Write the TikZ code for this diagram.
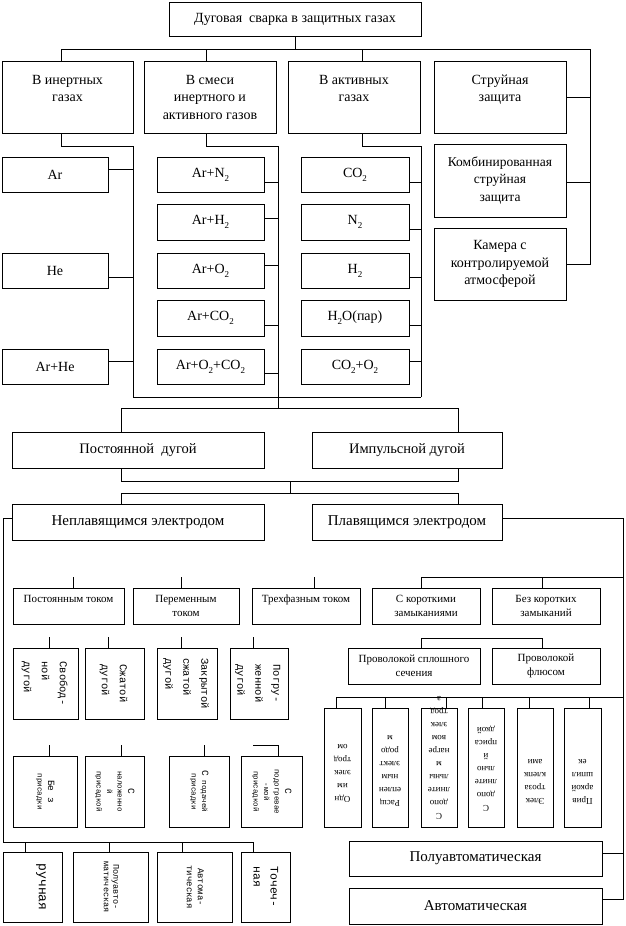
\documentclass[tikz,border=0pt]{standalone}
\usepackage{fontspec}
\setmainfont{Liberation Serif}
\setmonofont{Liberation Mono}
\usepackage{graphicx}
\newcommand\bx[7][]{%
  \pgfmathsetmacro\bxw{#5-#3}%
  \pgfmathsetmacro\bxh{#6-#4}%
  \pgfmathsetmacro\bxx{(#3+#5)/2}%
  \pgfmathsetmacro\bxy{(#4+#6)/2}%
  \node[box,minimum width=\bxw pt,minimum height=\bxh pt,#1] (#2) at (\bxx,\bxy) {#7};}
\newcommand\vt[2]{\rotatebox{-90}{\begin{tabular}{@{}#1@{}}#2\end{tabular}}}
\newcommand\ut[2]{\rotatebox{180}{\parbox[c][#1pt][t]{34pt}{\centering\fontsize{9}{13}\selectfont #2}}}
\newcommand\bg[1]{{\fontsize{9.5}{10}\selectfont #1}}
\newcommand\sbs[1]{\raisebox{-4pt}{\fontsize{9}{9}\selectfont #1}}
\begin{document}
\begin{tikzpicture}[x=1pt,y=-1pt,
  box/.style={draw,line width=0.7pt,inner sep=1pt,align=center,font=\fontsize{14}{17.5}\selectfont},
  sm/.style={font=\fontsize{11}{14}\selectfont},
  rowc/.style={font=\ttfamily\fontsize{10.5}{18}\selectfont},
  rowd/.style={font=\ttfamily\fontsize{7.5}{10.5}\selectfont},
  ln/.style={line width=0.7pt}]
\useasboundingbox (0,0) rectangle (626,926);
% ---------- level 1 / 2
\bx{top}{169}{2}{421}{36}{Дуговая\ \ сварка в защитных газах}
\bx{b1}{2}{61}{133}{133}{В инертных\\газах\\\mbox{}}
\bx{b2}{144}{61}{276}{133}{В смеси\\инертного и\\активного газов}
\bx{b3}{288}{61}{420}{133}{В активных\\газах\\\mbox{}}
\bx{b4}{434}{61}{566}{133}{Струйная\\защита\\\mbox{}}
\bx[font=\fontsize{13.5}{17.5}\selectfont]{comb}{434}{144}{566}{217}{Комбинированная\\струйная\\защита}
\bx{cam}{434}{228}{566}{300}{Камера с\\контролируемой\\атмосферой}
% inert
\bx{ar}{2}{157}{108}{192}{Ar}
\bx{he}{2}{253}{108}{288}{He}
\bx{arhe}{2}{349}{108}{384}{Ar+He}
% mix
\bx{m1}{157}{157}{264}{192}{Ar+N\sbs{2}}
\bx{m2}{157}{204}{264}{240}{Ar+H\sbs{2}}
\bx{m3}{157}{253}{264}{288}{Ar+O\sbs{2}}
\bx{m4}{157}{300}{264}{336}{Ar+CO\sbs{2}}
\bx{m5}{157}{349}{264}{384}{Ar+O\sbs{2}+CO\sbs{2}}
% active
\bx{a1}{301}{157}{409}{192}{CO\sbs{2}}
\bx{a2}{301}{204}{409}{240}{N\sbs{2}}
\bx{a3}{301}{253}{409}{288}{H\sbs{2}}
\bx{a4}{301}{300}{409}{336}{H\sbs{2}O(пар)}
\bx{a5}{301}{349}{409}{384}{CO\sbs{2}+O\sbs{2}}
% ---------- arc / electrode
\bx[font=\fontsize{14.5}{17}\selectfont]{post}{12}{432}{264}{468}{Постоянной\ \ дугой}
\bx[font=\fontsize{14.5}{17}\selectfont]{imp}{312}{432}{502}{468}{Импульсной дугой}
\bx[font=\fontsize{15}{17}\selectfont]{nep}{12}{504}{264}{540}{Неплавящимся электродом}
\bx[font=\fontsize{15}{17}\selectfont]{pl}{312}{504}{502}{540}{Плавящимся электродом}
% ---------- small boxes
\bx[sm]{pt1}{13}{588}{124}{624}{Постоянным током\\\mbox{}}
\bx[sm]{pt2}{133}{588}{239}{624}{Переменным\\током}
\bx[sm]{pt3}{252}{588}{360}{624}{Трехфазным током\\\mbox{}}
\bx[sm]{kz1}{372}{588}{480}{624}{С короткими\\замыканиями}
\bx[sm]{kz2}{492}{588}{600}{624}{Без коротких\\замыканий}
\bx[sm]{pr1}{348}{648}{480}{684}{Проволокой сплошного\\сечения}
\bx[sm]{pr2}{492}{648}{600}{684}{Проволокой\\флюсом}
% row 3
\bx[rowc]{d1}{13}{648}{78}{719}{\vt{l}{Свобод-\\ной\\дугой}}
\bx[rowc]{d2}{85}{648}{144}{719}{\vt{l}{Сжатой\\дугой}}
\bx[rowc]{d3}{157}{648}{217}{719}{\vt{l}{Закрытой\\сжатой\\дугой}}
\bx[rowc]{d4}{230}{648}{288}{719}{\vt{l}{Погру-\\женной\\дугой}}
% row 4
\bx[rowd]{e1}{13}{756}{77}{827}{\vt{c}{\bg{Бе з}\\присадки}}
\bx[rowd]{e2}{85}{756}{144}{827}{\vt{c}{\bg{С}\\наложенно\\й\\присадкой}}
\bx[rowd]{e3}{169}{756}{229}{827}{\vt{c}{\bg{С} подачей\\присадки}}
\bx[rowd]{e4}{241}{756}{302}{827}{\vt{c}{\bg{С}\\подогревае\\-мой\\присадкой}}
% row 5
\bx[font=\ttfamily\fontsize{13}{21}\selectfont]{f1}{3}{852}{62}{922}{\vt{c}{ручная\\\mbox{}}}
\bx[font=\ttfamily\fontsize{8.5}{9.5}\selectfont]{f2}{73}{852}{148}{922}{\vt{c}{Полуавто-\\матическая}}
\bx[font=\ttfamily\fontsize{9}{11}\selectfont]{f3}{157}{852}{232}{922}{\vt{c}{Автома-\\тическая}}
\bx[font=\ttfamily\fontsize{11.5}{17}\selectfont]{f4}{241}{852}{290}{922}{\vt{l}{Точеч-\\ная}}
% right rotated
\bx{r1}{324}{708}{361}{827}{\ut{69}{Одн\\им\\элек\\трод\\ом}}
\bx{r2}{372}{708}{408}{827}{\ut{77}{Расщ\\еплен\\ным\\элект\\родо\\м}}
\bx{r3}{421}{708}{457}{827}{\ut{103}{С\\допо\\лните\\льны\\м\\нагре\\вом\\элек\\трод\\а}}
\bx{r4}{468}{708}{504}{827}{\ut{87}{С\\допо\\лните\\льно\\й\\приса\\дкой}}
\bx{r5}{517}{708}{553}{827}{\ut{73}{Элек\\троза\\клепк\\ами}}
\bx{r6}{564}{708}{601}{827}{\ut{73}{Прив\\аркой\\шпил\\ек}}
% bottom right
\bx[font=\fontsize{15}{17}\selectfont]{pa}{349}{841}{602}{876}{Полуавтоматическая}
\bx[font=\fontsize{15}{17}\selectfont]{av}{349}{888}{602}{924}{Автоматическая}
% ================= connectors
\coordinate (h1L) at (61,49);
\coordinate (h1d2) at (206,49);
\coordinate (h1d3) at (362,49);
\coordinate (h1R) at (590,49);
\draw[ln] (top.south) -- (top.south |- h1L);
\draw[ln] (h1L |- b1.north) -- (h1L) -- (h1R) -- (h1R |- cam.east) -- (cam.east);
\draw[ln] (h1d2) -- (h1d2 |- b2.north);
\draw[ln] (h1d3) -- (h1d3 |- b3.north);
\draw[ln] (b4.east) -- (b4.east -| h1R);
\draw[ln] ([yshift=-1.5pt]comb.east) -- ([yshift=-1.5pt]comb.east -| h1R);
% group 1
\coordinate (g1a) at (61,146); \coordinate (g1b) at (133,146); \coordinate (g1c) at (133,397);
\draw[ln] (g1a |- b1.south) -- (g1a) -- (g1b) -- (g1c);
\draw[ln] ([yshift=5.5pt]ar.east) -- ([yshift=5.5pt]ar.east -| g1b);
\draw[ln] ([yshift=-6.5pt]he.east) -- ([yshift=-6.5pt]he.east -| g1b);
\draw[ln] ([yshift=5.5pt]arhe.east) -- ([yshift=5.5pt]arhe.east -| g1b);
% group 2
\coordinate (g2a) at (206,146); \coordinate (g2b) at (278,146); \coordinate (g2c) at (278,408);
\draw[ln] (g2a |- b2.south) -- (g2a) -- (g2b) -- (g2c);
\draw[ln] ([yshift=-7.5pt]m1.east) -- ([yshift=-7.5pt]m1.east -| g2b);
\draw[ln] ([yshift=4pt]m2.east) -- ([yshift=4pt]m2.east -| g2b);
\draw[ln] ([yshift=5.5pt]m3.east) -- ([yshift=5.5pt]m3.east -| g2b);
\draw[ln] ([yshift=-7pt]m4.east) -- ([yshift=-7pt]m4.east -| g2b);
\draw[ln] ([yshift=-6.5pt]m5.east) -- ([yshift=-6.5pt]m5.east -| g2b);
% group 3
\coordinate (g3a) at (362,146); \coordinate (g3b) at (421,146); \coordinate (g3c) at (421,397);
\draw[ln] (g3a |- b3.south) -- (g3a) -- (g3b) -- (g3c);
\draw[ln] ([yshift=-7.5pt]a1.east) -- ([yshift=-7.5pt]a1.east -| g3b);
\draw[ln] ([yshift=-7pt]a2.east) -- ([yshift=-7pt]a2.east -| g3b);
\draw[ln] ([yshift=-6.5pt]a3.east) -- ([yshift=-6.5pt]a3.east -| g3b);
\draw[ln] ([yshift=-7pt]a4.east) -- ([yshift=-7pt]a4.east -| g3b);
\draw[ln] ([yshift=5.5pt]a5.east) -- ([yshift=5.5pt]a5.east -| g3b);
\draw[ln] (g1c) -- (g3c);
% arc type
\coordinate (k1) at (121,408); \coordinate (k2) at (458,408);
\draw[ln] (k1 |- post.north) -- (k1) -- (k2) -- (k2 |- imp.north);
\coordinate (l1) at (121,481); \coordinate (l2) at (458,481);
\coordinate (lm) at (290,481); \coordinate (n0) at (290,493);
\coordinate (n1) at (121,493); \coordinate (n2) at (458,493);
\draw[ln] (l1 |- post.south) -- (l1) -- (l2) -- (l2 |- imp.south);
\draw[ln] (lm) -- (n0);
\draw[ln] (n1 |- nep.north) -- (n1) -- (n2) -- (n2 |- pl.north);
% left trunk
\coordinate (L1) at (3,518); \coordinate (L2) at (3,842); \coordinate (L3) at (253,842);
\coordinate (L4) at (25,842); \coordinate (L5) at (109,842); \coordinate (L6) at (182,842);
\draw[ln] ([yshift=4pt]nep.west) -- ([yshift=4pt]nep.west -| L1) -- (L2) -- (L3) -- (L3 |- f4.north);
\draw[ln] (L4) -- (L4 |- f1.north);
\draw[ln] (L5) -- (L5 |- f2.north);
\draw[ln] (L6) -- (L6 |- f3.north);
% stubs left
\coordinate (s1) at (73,577); \coordinate (s2) at (181,577); \coordinate (s3) at (314,577);
\draw[ln] (s1) -- (s1 |- pt1.north);
\draw[ln] (s2) -- (s2 |- pt2.north);
\draw[ln] (s3) -- (s3 |- pt3.north);
\coordinate (t1) at (49,637); \coordinate (t2) at (108,637); \coordinate (t3) at (181,637); \coordinate (t4) at (253,637);
\draw[ln] (t1) -- (t1 |- d1.north);
\draw[ln] (t2) -- (t2 |- d2.north);
\draw[ln] (t3) -- (t3 |- d3.north);
\draw[ln] (t4) -- (t4 |- d4.north);
\coordinate (u1) at (49,745); \coordinate (u2) at (121,745); \coordinate (u3) at (204,745);
\coordinate (u4) at (253,745); \coordinate (u5) at (278,745);
\draw[ln] (u1) -- (u1 |- e1.north);
\draw[ln] (u2) -- (u2 |- e2.north);
\draw[ln] (u3) -- (u3 |- e3.north);
\draw[ln] (u4) -- (u5) -- (u5 |- e4.north);
% right trunk
\coordinate (R1) at (623,518);
\draw[ln] ([yshift=4pt]pl.east) -- ([yshift=4pt]pl.east -| R1) -- ([yshift=7pt]av.east -| R1) -- ([yshift=7pt]av.east);
\draw[ln] ([yshift=5.5pt]pa.east) -- ([yshift=5.5pt]pa.east -| R1);
\coordinate (T1) at (421,577); \coordinate (T2) at (542,577);
\draw[ln] (T1 |- kz1.north) -- (T1) -- (T1 -| R1);
\draw[ln] (T2) -- (T2 |- kz2.north);
\coordinate (U1) at (421,638); \coordinate (U2) at (542,638);
\draw[ln] (U1 |- pr1.north) -- (U1) -- (U2) -- (U2 |- pr2.north);
\coordinate (V1) at (336,697); \coordinate (V2) at (385,697); \coordinate (V3) at (446,697);
\coordinate (V4) at (482,697); \coordinate (V5) at (529,697); \coordinate (V6) at (589,697);
\draw[ln] (V1 |- r1.north) -- (V1) -- (V1 -| R1);
\draw[ln] (V2) -- (V2 |- r2.north);
\draw[ln] (V3) -- (V3 |- r3.north);
\draw[ln] (V4) -- (V4 |- r4.north);
\draw[ln] (V5) -- (V5 |- r5.north);
\draw[ln] (V6) -- (V6 |- r6.north);
\end{tikzpicture}
\end{document}
